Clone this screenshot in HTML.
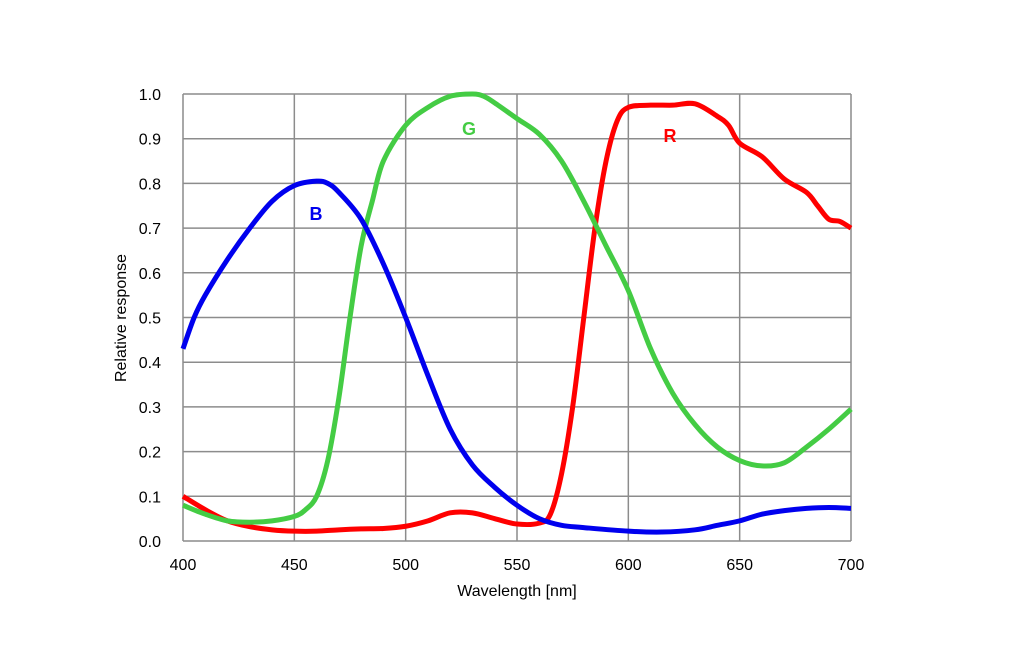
<!DOCTYPE html>
<html><head><meta charset="utf-8"><style>
body{margin:0;background:#fff;width:1024px;height:660px;overflow:hidden}
text{font-family:"Liberation Sans",Arial,sans-serif}
</style></head><body>
<svg id="c" width="1024" height="660" xmlns="http://www.w3.org/2000/svg"></svg>
<script>
const xTicks=[400,450,500,550,600,650,700];
const yTicks=[0,0.1,0.2,0.3,0.4,0.5,0.6,0.7,0.8,0.9,1.0];
const blueX=[400,405,410,420,430,440,450,460,465,470,480,490,500,510,520,530,540,550,560,570,580,600,615,630,640,650,660,670,680,690,700];
const blueY=[0.43,0.5,0.55,0.63,0.7,0.76,0.795,0.805,0.8,0.78,0.72,0.62,0.5,0.37,0.25,0.17,0.12,0.08,0.05,0.035,0.03,0.022,0.02,0.025,0.035,0.045,0.06,0.068,0.073,0.075,0.073];
const greenX=[400,410,420,430,440,450,455,460,465,470,475,480,485,490,500,510,520,530,535,540,550,560,570,580,590,600,610,620,630,640,650,660,670,680,690,700];
const greenY=[0.08,0.06,0.045,0.042,0.045,0.055,0.07,0.1,0.18,0.32,0.5,0.66,0.76,0.85,0.93,0.97,0.995,1.0,0.995,0.98,0.945,0.91,0.85,0.76,0.66,0.56,0.43,0.33,0.26,0.21,0.18,0.168,0.175,0.21,0.25,0.295];
const redX=[400,410,420,430,440,450,460,470,480,490,500,510,520,530,540,550,560,565,570,575,580,585,590,595,600,610,620,630,640,645,650,660,670,680,685,690,695,700];
const redY=[0.1,0.07,0.045,0.032,0.025,0.022,0.022,0.025,0.027,0.028,0.033,0.045,0.063,0.063,0.05,0.038,0.04,0.06,0.15,0.3,0.5,0.7,0.85,0.94,0.97,0.975,0.975,0.978,0.95,0.93,0.89,0.86,0.81,0.78,0.75,0.72,0.715,0.7];
const x0=183,x1=851,y0=541,y1=94;
const sx=v=>x0+(v-400)/300*(x1-x0);
const sy=v=>y0-v*(y0-y1);
const svg=document.getElementById('c');
const NS='http://www.w3.org/2000/svg';
function mk(t,a,txt){const e=document.createElementNS(NS,t);for(const k in a)e.setAttribute(k,a[k]);if(txt!=null)e.textContent=txt;svg.appendChild(e);return e;}
xTicks.forEach(v=>{const l=mk('line',{x1:sx(v),x2:sx(v),y1:y1,y2:y0,stroke:'#8c8c8c','stroke-width':1.5});


const t=mk('text',{x:sx(v),y:570,'text-anchor':'middle','font-size':16,fill:'#000'},v);

});
yTicks.forEach(v=>{const l=mk('line',{x1:x0,x2:x1,y1:sy(v),y2:sy(v),stroke:'#8c8c8c','stroke-width':1.5});


const t=mk('text',{x:161,y:sy(v)+6,'text-anchor':'end','font-size':16,fill:'#000'},v.toFixed(1));

});
function path(X,Y){const p=X.map((x,i)=>[sx(x),sy(Y[i])]);let d='M'+p[0][0]+','+p[0][1];
for(let i=0;i<p.length-1;i++){const a=p[Math.max(0,i-1)],b=p[i],c=p[i+1],e=p[Math.min(p.length-1,i+2)];
d+=' C'+(b[0]+(c[0]-a[0])/6)+','+(b[1]+(c[1]-a[1])/6)+' '+(c[0]-(e[0]-b[0])/6)+','+(c[1]-(e[1]-b[1])/6)+' '+c[0]+','+c[1];}return d;}
[[redX,redY,'#ff0000','red-curve'],[greenX,greenY,'#44cc44','green-curve'],[blueX,blueY,'#0000ee','blue-curve']].forEach(s=>{
const p=mk('path',{d:path(s[0],s[1]),fill:'none',stroke:s[2],'stroke-width':5,'stroke-linejoin':'round'});

});
[['B',316,220,'#0000ee'],['G',469,135,'#44cc44'],['R',670,142,'#ff0000']].forEach(l=>{
const t=mk('text',{x:l[1],y:l[2],'text-anchor':'middle','font-size':18,'font-weight':'bold',fill:l[3]},l[0]);

});
const xt=mk('text',{x:517,y:596,'text-anchor':'middle','font-size':16},'Wavelength [nm]');


const yt=mk('text',{x:126,y:318,'text-anchor':'middle','font-size':16,transform:'rotate(-90 126 318)'},'Relative response');


</script>
</body></html>
